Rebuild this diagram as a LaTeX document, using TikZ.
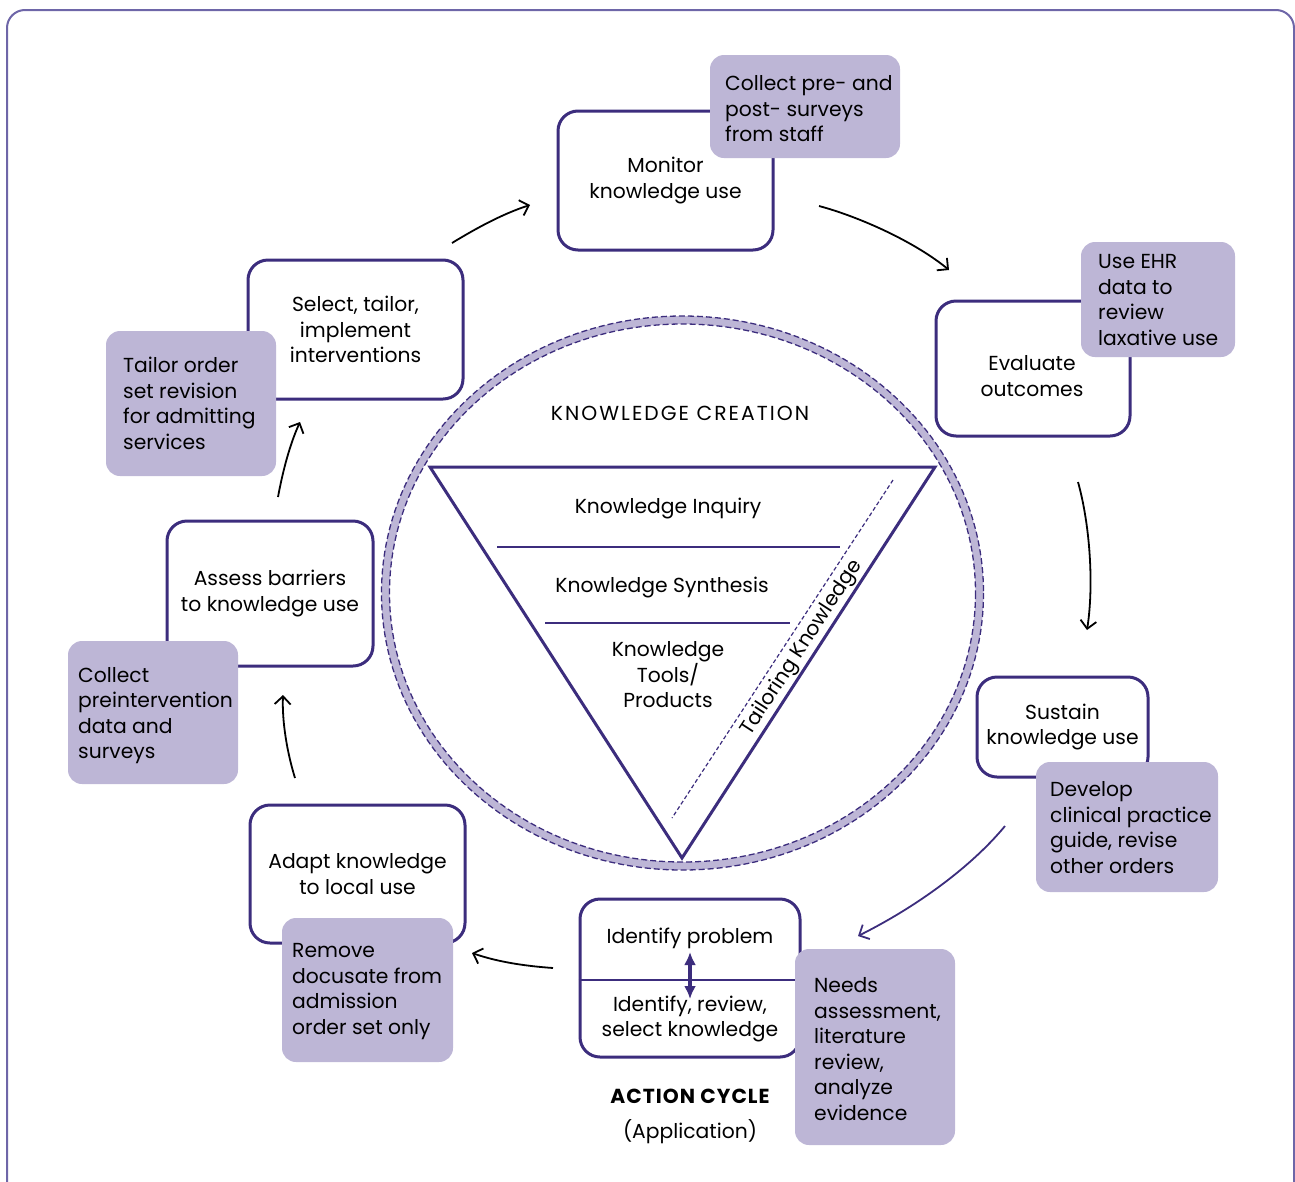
\documentclass[tikz,border=0pt]{standalone}
\usepackage{fontspec}
\setmainfont{Poppins}
\usetikzlibrary{arrows.meta}
\definecolor{dpurple}{RGB}{60,45,125}
\definecolor{lpurple}{RGB}{189,182,214}
\definecolor{fpurple}{RGB}{110,102,168}
\tikzset{
  every node/.style={font=\fontsize{20.3}{25.5}\selectfont, text=black},
  stagebox/.style={draw=dpurple, line width=3pt, rounded corners=20pt, fill=white, align=center, inner sep=0pt},
  callout/.style={fill=lpurple, rounded corners=14pt, inner sep=0pt},
  callouttext/.style={align=left, anchor=west, inner sep=0pt},
  flow/.style={line width=1.8pt, -{Straight Barb[length=8pt,width=16pt,line width=1.8pt]}},
}
\begin{document}
\begin{tikzpicture}[x=1pt,y=-1pt]
\useasboundingbox (0,0) rectangle (1295,1181);
% outer frame
\draw[fpurple, line width=2pt, rounded corners=18pt] (7,1220) -- (7,10) -- (1294,10) -- (1294,1220);
% knowledge creation ring
\draw[lpurple, line width=8pt] (682.5,593) ellipse [x radius=297, y radius=273];
\draw[dpurple, line width=1.3pt, dash pattern=on 6pt off 3pt] (682.5,593) ellipse [x radius=301, y radius=277];
\draw[dpurple, line width=1.3pt, dash pattern=on 6pt off 3pt] (682.5,593) ellipse [x radius=293, y radius=269];
% triangle
\coordinate (tl) at (430,467);
\coordinate (tr) at (935,467);
\coordinate (tb) at (682,858);
\draw[dpurple, line width=3pt, line join=miter] (tl) -- (tr) -- (tb) -- cycle;
\draw[dpurple, line width=2pt] (497,547) -- (840,547);
\draw[dpurple, line width=2pt] (545,623) -- (790,623);
\coordinate (ds) at (893,480);
\coordinate (de) at (672,818);
\draw[dpurple, line width=1.2pt, dash pattern=on 4pt off 2.5pt] (ds) -- (de);
\node[font=\fontsize{20.3}{25.5}\selectfont\addfontfeature{LetterSpace=10}] (kc) at (680,413) {KNOWLEDGE CREATION};
\node (ki) at (668,509) {Knowledge Inquiry};
\node (ks) at (662,588) {Knowledge Synthesis};
\node[align=center] (kt) at (668,675) {Knowledge\\Tools/\\Products};
\node[rotate=57, inner sep=0pt] (tk) at (802,648) {Tailoring Knowledge};
% stage boxes
\node[stagebox, minimum width=215pt, minimum height=139pt] (monitor) at (665.5,180.5) {Monitor\\knowledge use};
\node[stagebox, minimum width=194pt, minimum height=135pt] (evaluate) at (1033,368.5) {};
\node[align=center] (evaltext) at (1032,376) {Evaluate\\outcomes};
\node[stagebox, minimum width=171pt, minimum height=100pt] (sustain) at (1062.5,727) {Sustain\\knowledge use};
\node[stagebox, minimum width=220pt, minimum height=158pt] (identify) at (690,978) {};
\draw[dpurple, line width=2pt] (identify.west |- 0,980) -- (identify.east |- 0,980);
\node (idprob) at (690,938) {Identify problem};
\node[align=center] (idsel) at (690,1019) {Identify, review,\\select knowledge};
\coordinate (dbt) at (690,952);
\coordinate (dbb) at (690,999);
\draw[dpurple, line width=4.5pt, {Latex[length=13pt,width=12pt]}-{Latex[length=13pt,width=12pt]}] (dbt) -- (dbb);
\node[stagebox, minimum width=215pt, minimum height=138pt] (adapt) at (357.5,874) {Adapt knowledge\\to local use};
\node[stagebox, minimum width=206pt, minimum height=145pt] (assess) at (270,593.5) {Assess barriers\\to knowledge use};
\node[stagebox, minimum width=215pt, minimum height=139pt] (select) at (355.5,329.5) {Select, tailor,\\implement\\interventions};
% callouts
\node[callout, minimum width=190pt, minimum height=103pt] (c1) at (805,106.5) {};
\node[callouttext] (c1t) at (725,109) {Collect pre- and\\post- surveys\\from staff};
\node[callout, minimum width=154pt, minimum height=115pt] (c2) at (1158,299.5) {};
\node[callouttext] (c2t) at (1098,300) {Use EHR\\data to\\review\\laxative use};
\node[callout, minimum width=182pt, minimum height=130pt] (c3) at (1127,827) {};
\node[callouttext] (c3t) at (1050,827.5) {Develop\\clinical practice\\guide, revise\\other orders};
\node[callout, minimum width=160pt, minimum height=196pt] (c4) at (875,1047) {};
\node[callouttext] (c4t) at (814,1049) {Needs\\assessment,\\literature\\review,\\analyze\\evidence};
\node[callout, minimum width=171pt, minimum height=144pt] (c5) at (367.5,990) {};
\node[callouttext] (c5t) at (292,991.5) {Remove\\docusate from\\admission\\order set only};
\node[callout, minimum width=170pt, minimum height=143pt] (c6) at (153,712.5) {};
\node[callouttext] (c6t) at (78,715.5) {Collect\\preintervention\\data and\\surveys};
\node[callout, minimum width=170pt, minimum height=145pt] (c7) at (191,403.5) {};
\node[callouttext] (c7t) at (123,403.5) {Tailor order\\set revision\\for admitting\\services};
% action cycle label
\node[font=\fontsize{20.3}{25.5}\selectfont\bfseries\addfontfeature{LetterSpace=5}] (ac) at (690,1096) {ACTION CYCLE};
\node (app) at (690,1132) {(Application)};
% cycle arrows
\coordinate (a1s) at (452,243); \coordinate (a1e) at (530,205);
\coordinate (a2s) at (819,206); \coordinate (a2e) at (949,270);
\coordinate (a3s) at (1078,482); \coordinate (a3e) at (1087,630);
\coordinate (a4s) at (1005,826); \coordinate (a4e) at (858,936);
\coordinate (a5s) at (553,968); \coordinate (a5e) at (472,953);
\coordinate (a6s) at (295,778); \coordinate (a6e) at (283,695);
\coordinate (a7s) at (278,497); \coordinate (a7e) at (300,422);
\draw[flow] (a1s) .. controls (475,229) and (502,214) .. (a1e);
\draw[flow] (a2s) .. controls (860,217) and (915,242) .. (a2e);
\draw[flow] (a3s) .. controls (1090,525) and (1094,585) .. (a3e);
\draw[flow, dpurple] (a4s) .. controls (972,866) and (918,906) .. (a4e);
\draw[flow] (a5s) .. controls (525,966) and (498,962) .. (a5e);
\draw[flow] (a6s) .. controls (287,752) and (282,722) .. (a6e);
\draw[flow] (a7s) .. controls (283,470) and (290,444) .. (a7e);
\end{tikzpicture}
\end{document}
